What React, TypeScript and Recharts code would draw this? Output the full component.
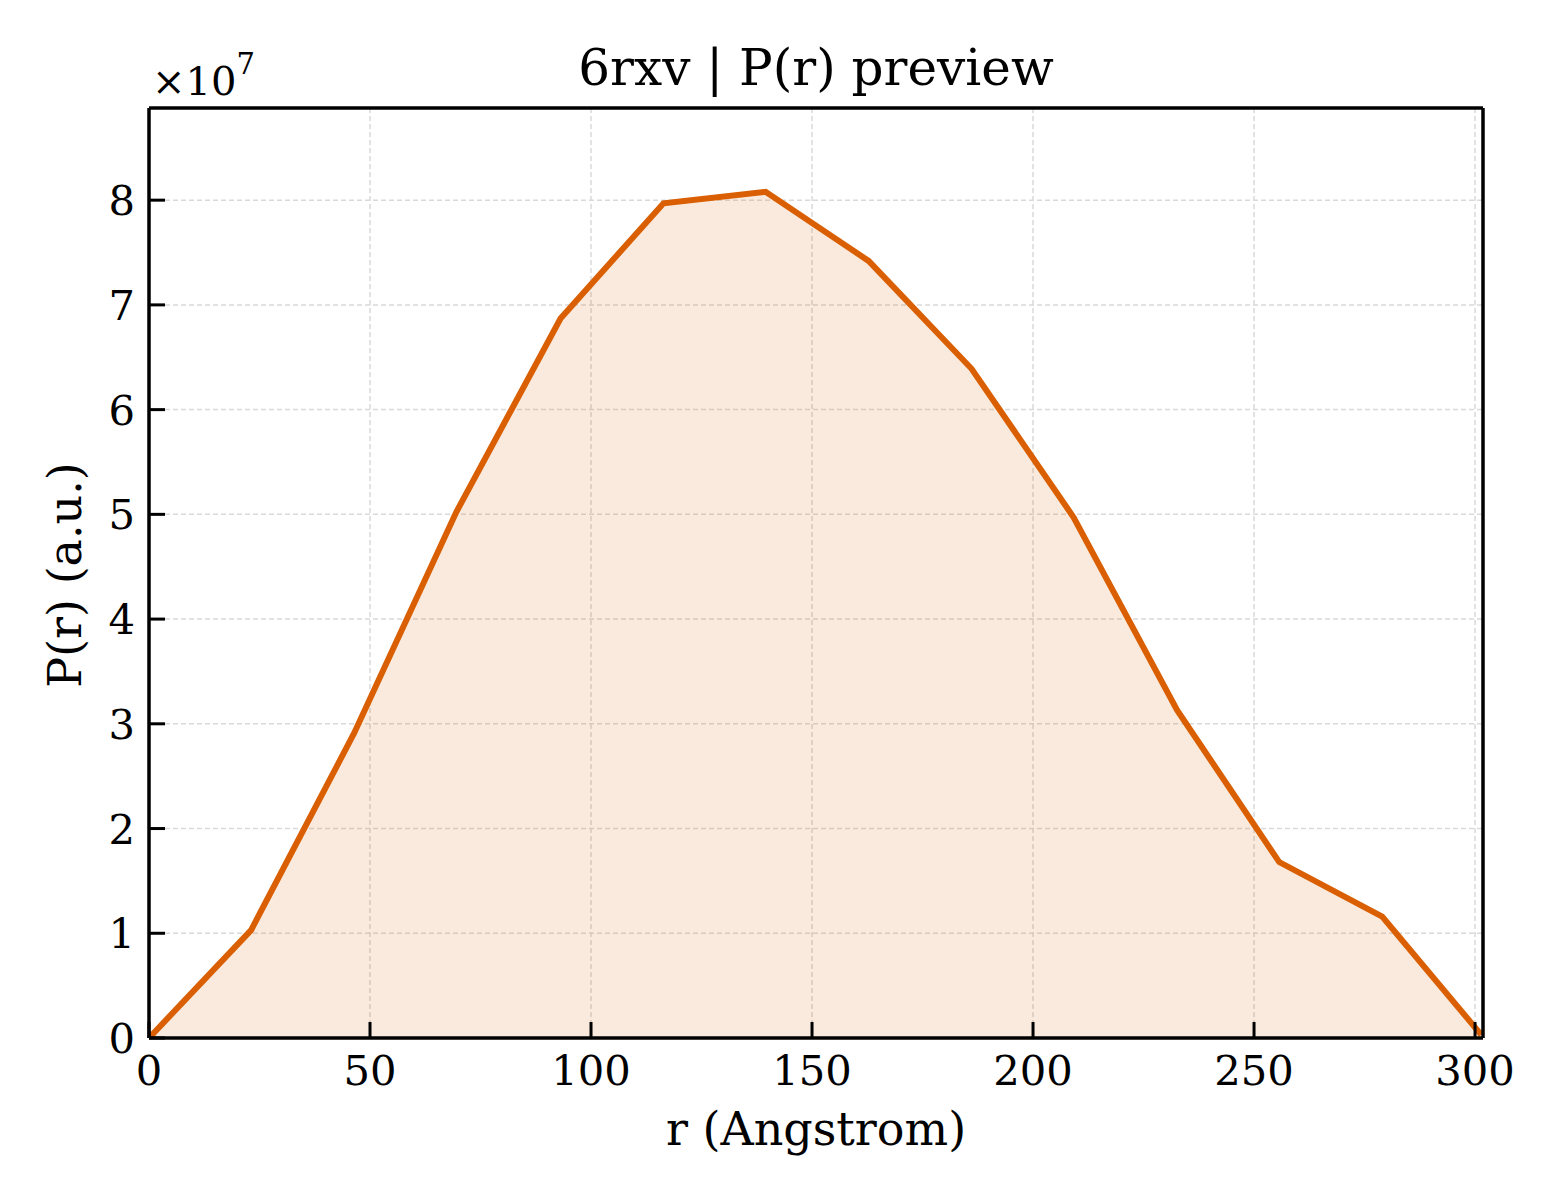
import { ComposedChart, Area, XAxis, YAxis, CartesianGrid, ReferenceLine } from 'recharts';

// r in Angstrom, P(r) in units of 1e7
const rValues = [0, 23.1, 46.4, 69.5, 93.1, 116.4, 139.5, 162.8, 186.1, 209.2, 232.6, 255.7, 279.0, 301.4];
const prValues = [0, 1.03, 2.91, 5.02, 6.87, 7.97, 8.08, 7.42, 6.39, 4.97, 3.13, 1.68, 1.16, 0.03];
const xTicks = [0, 50, 100, 150, 200, 250, 300];
const yTicks = [0, 1, 2, 3, 4, 5, 6, 7, 8];
const xMax = 301.8;
const yMax = 8.88;

const data = rValues.map((r, i) => ({ r, pr: prValues[i] }));

const FONT = "'DejaVu Serif', serif";
const COLOR = '#d95f02';

const XTick = (props: any) => {
  const { x, y, payload } = props;
  return (
    <g>
      <line x1={x} x2={x} y1={y} y2={y - 16} stroke='#000' strokeWidth={3} />
      <text x={x} y={y + 47} textAnchor='middle' fontFamily={FONT} fontSize={41.7} fill='#000'>
        {payload.value}
      </text>
    </g>
  );
};

const YTick = (props: any) => {
  const { x, y, payload } = props;
  return (
    <g>
      <line x1={x} x2={x + 16} y1={y} y2={y} stroke='#000' strokeWidth={3} />
      <text x={x - 14} y={y + 15} textAnchor='end' fontFamily={FONT} fontSize={41.7} fill='#000'>
        {payload.value}
      </text>
    </g>
  );
};

export default function App() {
  return (
    <div style={{ position: 'absolute', left: 0, top: 0, background: '#fff' }}>
      <ComposedChart
        width={1560}
        height={1200}
        data={data}
        margin={{ top: 108, right: 77, bottom: 0, left: 0 }}
      >
        <CartesianGrid stroke='#d9d9d9' strokeWidth={1.5} strokeDasharray='5 3' />
        <XAxis
          dataKey='r'
          type='number'
          domain={[0, xMax]}
          ticks={xTicks}
          allowDataOverflow
          height={162}
          tickSize={0}
          tickMargin={0}
          tickLine={false}
          axisLine={{ stroke: '#000', strokeWidth: 3.5 }}
          tick={<XTick />}
        />
        <YAxis
          type='number'
          domain={[0, yMax]}
          ticks={yTicks}
          allowDataOverflow
          width={149}
          tickSize={0}
          tickMargin={0}
          tickLine={false}
          axisLine={{ stroke: '#000', strokeWidth: 3.5 }}
          tick={<YTick />}
        />
        <Area
          type='linear'
          dataKey='pr'
          stroke={COLOR}
          strokeWidth={6}
          fill={COLOR}
          fillOpacity={0.13}
          isAnimationActive={false}
          dot={false}
          activeDot={false}
        />
        <ReferenceLine x={xMax} stroke='#000' strokeWidth={3.5} />
        <ReferenceLine y={yMax} stroke='#000' strokeWidth={3.5} />
        <text x={816} y={85} textAnchor='middle' fontFamily={FONT} fontSize={50} fill='#000'>
          6rxv | P(r) preview
        </text>
        <text x={816} y={1145} textAnchor='middle' fontFamily={FONT} fontSize={46} fill='#000'>
          r (Angstrom)
        </text>
        <text
          x={81}
          y={575}
          textAnchor='middle'
          fontFamily={FONT}
          fontSize={46}
          fill='#000'
          transform='rotate(-90 81 575)'
        >
          P(r) (a.u.)
        </text>
        <text x={152} y={95} fontFamily={FONT} fontSize={40} fill='#000'>
          ×10
          <tspan dy={-21} fontSize={29}>
            7
          </tspan>
        </text>
      </ComposedChart>
    </div>
  );
}
